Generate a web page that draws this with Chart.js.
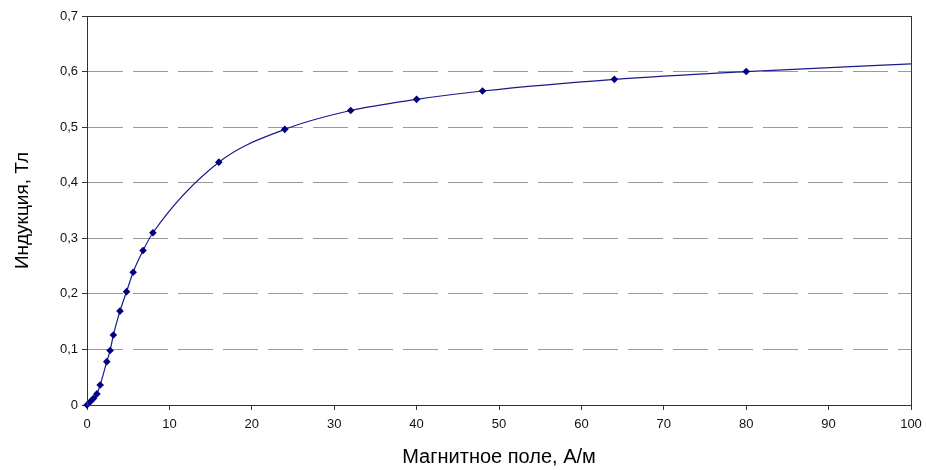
<!DOCTYPE html>
<html>
<head>
<meta charset="utf-8">
<script src="https://cdn.jsdelivr.net/npm/chart.js@4/dist/chart.umd.min.js"></script>
<style>
html,body{margin:0;padding:0;background:#fff;}
#wrap{width:926px;height:470px;}
</style>
</head>
<body>
<div id="wrap"><canvas id="c" width="926" height="470"></canvas></div>
<script>
// Field strength H, A/m
const fieldH = [0, 0.4, 0.8, 1.2, 1.6, 2.4, 2.8, 3.2, 4, 4.8, 5.6, 6.8, 8, 16, 24, 32, 40, 48, 64, 80, 100];
// Induction B, T
const inductionB = [0, 0.006, 0.012, 0.02, 0.036, 0.078, 0.098, 0.126, 0.169, 0.204, 0.239, 0.278, 0.310, 0.437, 0.496, 0.530, 0.550, 0.565, 0.586, 0.600, 0.614];
// Whether a marker is drawn at each point
const showMarker = [1,1,1,1,1,1,1,1,1,1,1,1,1,1,1,1,1,1,1,1,0];
const xTitle = 'Магнитное поле, А/м';
const yTitle = 'Индукция, Тл';

const frame = {
  id: 'frame',
  afterDatasetsDraw(chart) {
    const a = chart.chartArea, ctx = chart.ctx;
    ctx.save();
    ctx.strokeStyle = '#333';
    ctx.lineWidth = 1;
    ctx.setLineDash([]);
    ctx.strokeRect(Math.round(a.left) + 0.5, Math.round(a.top) + 0.5, Math.round(a.right - a.left), Math.round(a.bottom - a.top));
    ctx.restore();
  }
};

const fmt = v => v === 0 ? '0' : v.toFixed(1).replace('.', ',');
const FONT = "'Liberation Sans', Arial, sans-serif";

new Chart(document.getElementById('c'), {
  type: 'line',
  data: {
    datasets: [{
      data: fieldH.map((x, i) => ({x, y: inductionB[i]})),
      borderColor: '#1a1a8a',
      backgroundColor: '#000080',
      borderWidth: 1.2,
      pointStyle: 'rectRot',
      pointRadius: showMarker.map(m => m ? 3.8 : 0),
      pointBorderWidth: 0,
      cubicInterpolationMode: 'monotone',
      fill: false,
      clip: false
    }]
  },
  options: {
    responsive: false,
    animation: false,
    devicePixelRatio: 1,
    layout: {padding: {left: 0, top: 16, right: 15, bottom: 0}},
    plugins: {legend: {display: false}, tooltip: {enabled: false}},
    scales: {
      x: {
        type: 'linear',
        min: 0, max: 100,
        afterFit(s) { s.height = 65; s.paddingRight = 0; },
        border: {display: true, color: '#333', width: 1},
        grid: {drawOnChartArea: false, drawTicks: true, tickLength: 5, tickColor: '#333', tickBorderDash: []},
        ticks: {stepSize: 10, color: '#111', font: {family: FONT, size: 13}, padding: 7, maxRotation: 0,
          callback: v => String(v)},
        title: {display: true, text: xTitle, color: '#000', font: {family: FONT, size: 20}, padding: {top: 0, bottom: 1}}
      },
      y: {
        type: 'linear',
        min: 0, max: 0.7,
        afterFit(s) { s.width = 87; },
        border: {display: true, color: '#333', width: 1, dash: [35, 10]},
        grid: {
          drawOnChartArea: true, drawTicks: true, tickLength: 5,
          color: ctx => (ctx.tick && (ctx.tick.value === 0 || Math.abs(ctx.tick.value - 0.7) < 1e-6)) ? 'rgba(0,0,0,0)' : '#999',
          tickBorderDash: [],
          tickColor: '#333'
        },
        ticks: {stepSize: 0.1, color: '#111', font: {family: FONT, size: 13}, padding: 4,
          callback: v => fmt(v)},
        title: {display: true, text: yTitle, color: '#000', font: {family: FONT, size: 19}, padding: {top: 11, bottom: 0}}
      }
    }
  },
  plugins: [frame]
});
</script>
</body>
</html>
